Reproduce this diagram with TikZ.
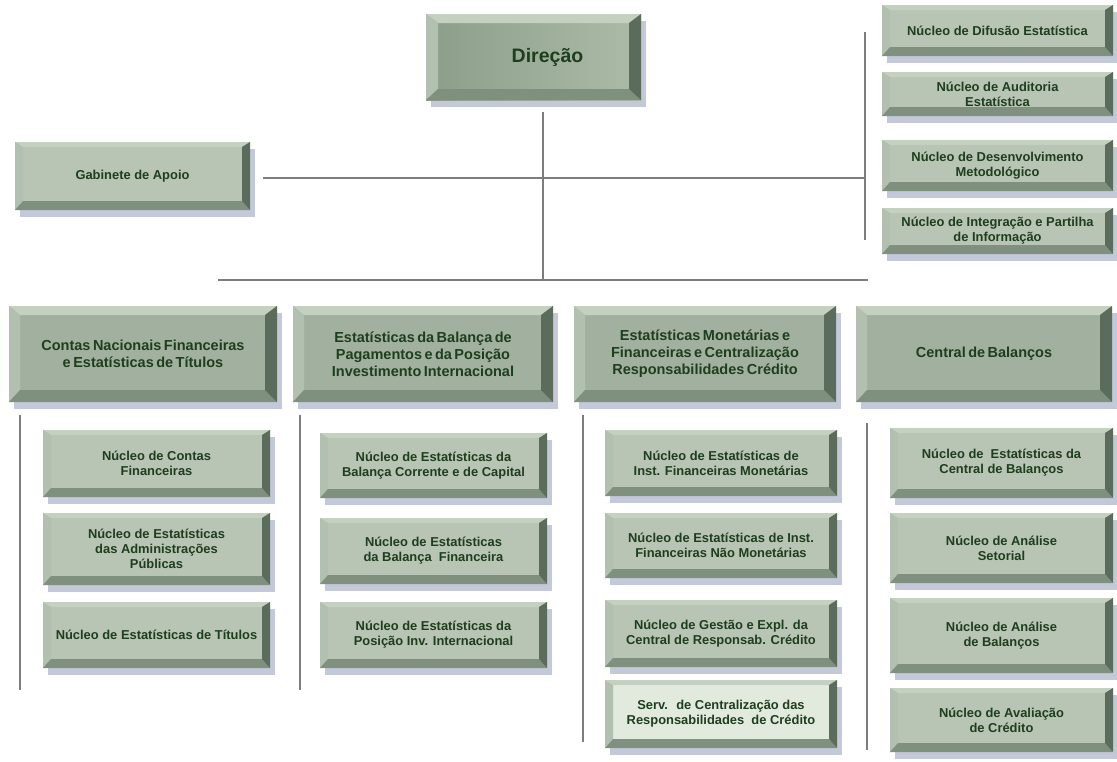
\documentclass[tikz,border=0pt]{standalone}
\usepackage{fontspec}
\setmainfont{Liberation Sans}
\usetikzlibrary{calc,shadows}
\definecolor{txtc}{RGB}{30,62,30}
\definecolor{linec}{RGB}{125,125,125}
\definecolor{facesub}{RGB}{184,196,180}
\definecolor{facemain}{RGB}{162,177,159}
\definecolor{facedirL}{RGB}{140,158,137}
\definecolor{facedirR}{RGB}{172,187,168}
\definecolor{facelight}{RGB}{226,234,222}
\definecolor{bevtop}{RGB}{196,208,192}
\definecolor{bevleft}{RGB}{178,193,175}
\definecolor{bevright}{RGB}{92,108,92}
\definecolor{bevbot}{RGB}{128,144,126}
\definecolor{shadowc}{RGB}{196,201,218}
\newcommand\placebox[7]{%
  \pgfmathsetmacro\pbcx{(#3+#5)/2}%
  \pgfmathsetmacro\pbcy{(#4+#6)/2}%
  \pgfmathsetmacro\pbw{#5-#3}%
  \pgfmathsetmacro\pbh{#6-#4}%
  \node[#1, minimum width=\pbw pt, minimum height=\pbh pt] (#2) at (\pbcx,\pbcy) {#7};%
}
\newcommand\tightspace{\spaceskip=0.17em plus 0.05em\relax}
\tikzset{
  bevL/.store in=\bvL, bevT/.store in=\bvT, bevR/.store in=\bvR, bevB/.store in=\bvB,
  bevL=8, bevT=5, bevR=8, bevB=8,
  bev/.style={path picture={
    \coordinate (qsw) at (path picture bounding box.south west);
    \coordinate (qne) at (path picture bounding box.north east);
    \coordinate (qnw) at (qsw|-qne);
    \coordinate (qse) at (qne|-qsw);
    \coordinate (inw) at ($(qnw)+(\bvL pt,-\bvT pt)$);
    \coordinate (ine) at ($(qne)+(-\bvR pt,-\bvT pt)$);
    \coordinate (ise) at ($(qse)+(-\bvR pt,\bvB pt)$);
    \coordinate (isw) at ($(qsw)+(\bvL pt,\bvB pt)$);
    \fill[bevtop] (qnw) -- (qne) -- (ine) -- (inw) -- cycle;
    \fill[bevleft] (qnw) -- (inw) -- (isw) -- (qsw) -- cycle;
    \fill[bevbot] (qsw) -- (isw) -- (ise) -- (qse) -- cycle;
    \fill[bevright] (qne) -- (qse) -- (ise) -- (ine) -- cycle;
  }},
  basebox/.style={inner sep=2pt, outer sep=0pt, align=center, text=txtc,
    drop shadow={shadow xshift=5pt, shadow yshift=-7pt, fill=shadowc, opacity=1}, bev},
  subbox/.style={basebox, fill=facesub, bevL=8, bevT=5, bevR=8, bevB=9,
    font=\bfseries\fontsize{12.9}{15}\selectfont},
  lightbox/.style={subbox, fill=facelight},
  mainbox/.style={basebox, fill=facemain, bevL=11, bevT=9, bevR=12, bevB=12,
    font=\bfseries\fontsize{14.5}{17}\selectfont},
  dirbox/.style={basebox, left color=facedirL, right color=facedirR, bevL=12, bevT=9, bevR=12, bevB=11,
    font=\bfseries\fontsize{19.5}{22}\selectfont},
  conn/.style={draw=linec, line width=1.4pt}
}
\begin{document}
\begin{tikzpicture}[x=1pt,y=-1pt]
\useasboundingbox[fill=white] (0,0) rectangle (1117,761);
% top
\placebox{dirbox}{dir}{426}{14}{641}{100}{\hspace*{28pt}Direção}
\placebox{subbox}{gab}{15}{142}{250}{210}{Gabinete de Apoio}
\placebox{subbox}{r1}{882}{5}{1113}{56}{Núcleo de Difusão Estatística}
\placebox{subbox}{r2}{882}{72}{1113}{116}{Núcleo de Auditoria\\Estatística}
\placebox{subbox}{r3}{882}{140}{1113}{191}{Núcleo de Desenvolvimento\\Metodológico}
\placebox{subbox}{r4}{882}{208}{1113}{254}{Núcleo de Integração e Partilha\\de Informação}
% level 2
\placebox{mainbox}{c1}{9}{306}{277}{402}{\tightspace Contas Nacionais Financeiras\\\tightspace e Estatísticas de Títulos}
\placebox{mainbox}{c2}{293}{306}{553}{402}{\tightspace Estatísticas da Balança de\\\tightspace Pagamentos e da Posição\\\tightspace Investimento Internacional}
\placebox{mainbox}{c3}{574}{306}{836}{402}{\tightspace Estatísticas Monetárias e\\\tightspace Financeiras e Centralização\\\tightspace Responsabilidades Crédito}
\placebox{mainbox}{c4}{856}{306}{1112}{402}{\tightspace Central de Balanços}
% column 1
\placebox{subbox}{a1}{43}{430}{270}{497}{Núcleo de Contas\\Financeiras}
\placebox{subbox}{a2}{43}{513}{270}{585}{Núcleo de Estatísticas\\das Administrações\\Públicas}
\placebox{subbox}{a3}{43}{602}{270}{668}{Núcleo de Estatísticas de Títulos}
% column 2
\placebox{subbox}{b1}{320}{433}{547}{498}{Núcleo de Estatísticas da\\Balança Corrente e de Capital}
\placebox{subbox}{b2}{320}{518}{547}{584}{Núcleo de Estatísticas\\da Balança~~Financeira}
\placebox{subbox}{b3}{320}{602}{547}{668}{Núcleo de Estatísticas da\\Posição Inv. Internacional}
% column 3
\placebox{subbox}{d1}{605}{430}{837}{496}{Núcleo de Estatísticas de\\Inst. Financeiras Monetárias}
\placebox{subbox}{d2}{605}{513}{837}{578}{Núcleo de Estatísticas de Inst.\\Financeiras Não Monetárias}
\placebox{subbox}{d3}{605}{600}{837}{667}{Núcleo de Gestão e Expl. da\\Central de Responsab. Crédito}
\placebox{lightbox}{d4}{605}{680}{837}{748}{Serv.~ de Centralização das\\Responsabilidades~ de Crédito}
% column 4
\placebox{subbox}{e1}{890}{428}{1113}{498}{Núcleo de~ Estatísticas da\\Central de Balanços}
\placebox{subbox}{e2}{890}{513}{1113}{583}{Núcleo de Análise\\Setorial}
\placebox{subbox}{e3}{890}{598}{1113}{673}{Núcleo de Análise\\de Balanços}
\placebox{subbox}{e4}{890}{688}{1113}{752}{Núcleo de Avaliação\\de Crédito}
% connector coordinates
\coordinate (dirfoot) at (543,112);
\coordinate (hub2) at (543,280);
\coordinate (gabend) at (263,178);
\coordinate (rhub) at (865,178);
\coordinate (rtop) at (865,32);
\coordinate (rbot) at (865,240);
\coordinate (busL) at (218,280);
\coordinate (busR) at (868,280);
\coordinate (l1t) at (20,415);  \coordinate (l1b) at (20,690);
\coordinate (l2t) at (300,415); \coordinate (l2b) at (300,690);
\coordinate (l3t) at (583,415); \coordinate (l3b) at (583,742);
\coordinate (l4t) at (867,423); \coordinate (l4b) at (867,750);
\draw[conn] (dirfoot) -- (hub2);
\draw[conn] (gabend) -- (rhub);
\draw[conn] (rtop) -- (rbot);
\draw[conn] (busL) -- (busR);
\draw[conn] (l1t) -- (l1b);
\draw[conn] (l2t) -- (l2b);
\draw[conn] (l3t) -- (l3b);
\draw[conn] (l4t) -- (l4b);
\end{tikzpicture}
\end{document}
